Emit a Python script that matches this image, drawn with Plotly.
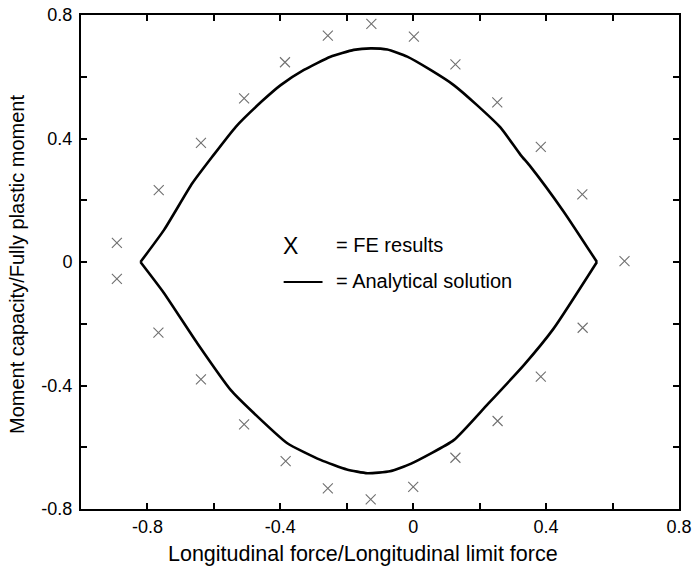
import plotly.graph_objects as go

# FE results (markers)
fe_x = [-0.892, -0.766, -0.639, -0.509, -0.386, -0.257, -0.126, 0.002, 0.127, 0.253, 0.384, 0.509, 0.636,
        -0.892, -0.767, -0.639, -0.509, -0.384, -0.257, -0.128, 0.0, 0.127, 0.254, 0.384, 0.510]
fe_y = [0.062, 0.233, 0.386, 0.530, 0.647, 0.733, 0.771, 0.730, 0.640, 0.517, 0.373, 0.219, 0.003,
        -0.055, -0.229, -0.380, -0.526, -0.645, -0.733, -0.769, -0.728, -0.634, -0.515, -0.371, -0.213]

# Analytical solution (upper and lower branches)
up_x = [-0.821, -0.75, -0.665, -0.605, -0.534, -0.454, -0.399, -0.329, -0.249, -0.179, -0.128,
        -0.078, -0.018, 0.052, 0.122, 0.192, 0.263, 0.323, 0.353, 0.453, 0.553]
up_y = [0.0, 0.104, 0.255, 0.341, 0.438, 0.522, 0.573, 0.622, 0.665, 0.687, 0.692,
        0.688, 0.665, 0.622, 0.573, 0.508, 0.435, 0.347, 0.309, 0.163, 0.0]
lo_x = [-0.821, -0.75, -0.65, -0.549, -0.484, -0.379, -0.279, -0.2, -0.138, -0.07, -0.008,
        0.122, 0.223, 0.333, 0.423, 0.553]
lo_y = [0.0, -0.101, -0.263, -0.415, -0.485, -0.587, -0.641, -0.672, -0.684, -0.678, -0.654,
        -0.577, -0.462, -0.334, -0.215, 0.0]

x_ticks = [-0.8, -0.6, -0.4, -0.2, 0.0, 0.2, 0.4, 0.6, 0.8]
x_ticktext = ["-0.8", "", "-0.4", "", "0", "", "0.4", "", "0.8"]
y_ticks = [-0.8, -0.6, -0.4, -0.2, 0.0, 0.2, 0.4, 0.6, 0.8]
y_ticktext = ["-0.8", "", "-0.4", "", "0", "", "0.4", "", "0.8"]

FONT = "Liberation Sans, Arial, sans-serif"

fig = go.Figure()
for cx, cy in ((up_x, up_y), (lo_x, lo_y)):
    fig.add_trace(go.Scatter(x=cx, y=cy, mode="lines",
                             line=dict(color="black", width=2.6, shape="spline", smoothing=0.5),
                             showlegend=False, hoverinfo="skip"))
fig.add_trace(go.Scatter(x=fe_x, y=fe_y, mode="markers",
                         marker=dict(symbol="x-thin-open", size=10, color="#707070",
                                     line=dict(color="#707070", width=1.1)),
                         showlegend=False))

# legend drawn inside plot
fig.add_annotation(x=-0.369, y=0.052, text="X", showarrow=False, xanchor="center", yanchor="middle",
                   font=dict(family=FONT, size=23, color="black"))
fig.add_annotation(x=-0.238, y=0.055, text="= FE results", showarrow=False, xanchor="left",
                   yanchor="middle", font=dict(family=FONT, size=20, color="black"))
fig.add_shape(type="line", x0=-0.390, x1=-0.273, y0=-0.065, y1=-0.065,
              line=dict(color="black", width=2))
fig.add_annotation(x=-0.238, y=-0.062, text="= Analytical solution", showarrow=False, xanchor="left",
                   yanchor="middle", font=dict(family=FONT, size=20, color="black"))

# axis titles
fig.add_annotation(x=0.5, y=0, xref="paper", yref="paper", text="Longitudinal force/Longitudinal limit force",
                   showarrow=False, xanchor="center", yanchor="middle", yshift=-45, xshift=-17,
                   font=dict(family=FONT, size=21.5, color="black"))
fig.add_annotation(x=0, y=0.5, xref="paper", yref="paper", text="Moment capacity/Fully plastic moment",
                   showarrow=False, xanchor="center", yanchor="middle", xshift=-64, yshift=-3,
                   textangle=-90, font=dict(family=FONT, size=20, color="black"))

axis_common = dict(showgrid=False, zeroline=False, showline=True, linecolor="black", linewidth=2,
                   mirror="allticks", ticks="inside", ticklen=6, tickwidth=1.5, tickcolor="black",
                   tickfont=dict(family=FONT, size=18, color="black"), automargin=False)

fig.update_xaxes(range=[-1.0, 0.8], tickmode="array", tickvals=x_ticks, ticktext=x_ticktext,
                 ticklabelstandoff=0, **axis_common)
fig.update_yaxes(range=[-0.8, 0.8], tickmode="array", tickvals=y_ticks, ticktext=y_ticktext,
                 ticklabelstandoff=3, **axis_common)

fig.update_layout(width=693, height=569, margin=dict(l=81, r=14, t=15, b=60),
                  paper_bgcolor="white", plot_bgcolor="white", showlegend=False)

fig.write_html("out.html")
